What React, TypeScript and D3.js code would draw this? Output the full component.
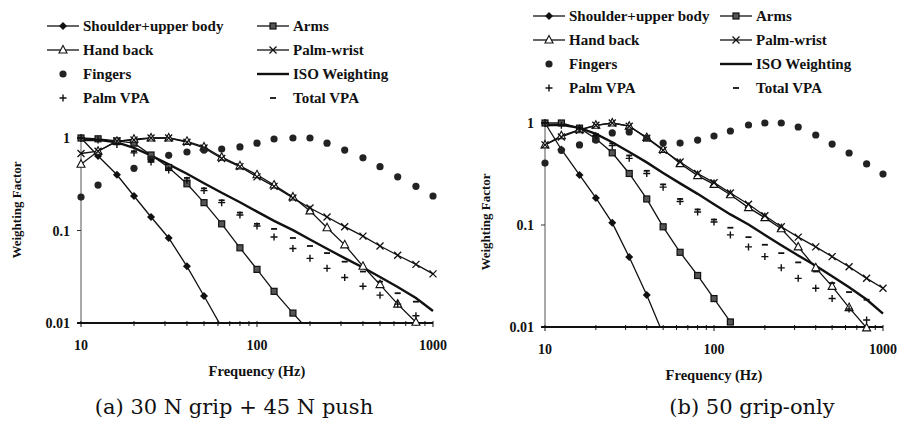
import React from "react";
import * as d3 from "d3";

// One-third octave band centre frequencies (Hz)
const FREQ = [10, 12.5, 16, 20, 25, 31.5, 40, 50, 63, 80, 100, 125, 160, 200, 250, 315, 400, 500, 630, 800, 1000];
const X_TICKS = [10, 100, 1000];
const X_TICK_LABELS = ["10", "100", "1000"];
const Y_TICKS = [1, 0.1, 0.01];
const Y_TICK_LABELS = ["1", "0.1", "0.01"];
const SERIES_NAMES = ["Shoulder+upper body", "Arms", "Hand back", "Palm-wrist", "Fingers", "ISO Weighting", "Palm VPA", "Total VPA"];
const CAPTIONS = ["(a) 30 N grip + 45 N push", "(b) 50 grip-only"];
const X_TITLE = "Frequency (Hz)";
const Y_TITLE = "Weighting Factor";

const N = null;
const ISO_WH = [0.951, 0.958, 0.896, 0.782, 0.647, 0.519, 0.411, 0.324, 0.256, 0.202, 0.16, 0.127, 0.101, 0.0799, 0.0634, 0.0503, 0.0398, 0.0314, 0.0245, 0.0186, 0.0135];

// (a) 30 N grip + 45 N push
const SHOULDER_A = [1.0, 0.64, 0.4, 0.236, 0.14, 0.083, 0.041, 0.0196, 0.009, N, N, N, N, N, N, N, N, N, N, N, N];
const ARMS_A = [1.0, 0.98, 0.93, 0.88, 0.655, 0.48, 0.32, 0.2, 0.118, 0.065, 0.038, 0.022, 0.0128, 0.008, N, N, N, N, N, N, N];
const HANDBACK_A = [0.52, 0.72, 0.92, 0.97, 1.0, 1.0, 0.92, 0.8, 0.62, 0.5, 0.4, 0.31, 0.23, 0.163, 0.107, 0.07, 0.041, 0.026, 0.016, 0.0102, N];
const PALMWRIST_A = [0.68, 0.72, 0.93, 0.95, 1.0, 1.0, 0.9, 0.78, 0.6, 0.49, 0.38, 0.3, 0.225, 0.175, 0.14, 0.11, 0.087, 0.068, 0.054, 0.043, 0.034];
const FINGERS_A = [0.23, 0.31, N, 0.47, 0.59, 0.65, 0.706, 0.74, 0.76, 0.8, 0.88, 0.975, 1.0, 1.0, 0.88, 0.74, 0.61, 0.49, 0.38, 0.3, 0.236];
const PALMVPA_A = [1.0, 0.95, 0.85, 0.69, 0.55, 0.45, 0.35, 0.27, 0.2, 0.147, 0.112, 0.085, 0.064, 0.05, 0.039, 0.031, 0.025, 0.02, 0.016, 0.012, N];
const TOTALVPA_A = [1.0, 0.96, 0.87, 0.72, 0.58, 0.47, 0.37, 0.285, 0.212, 0.156, 0.118, 0.104, 0.083, 0.068, 0.057, 0.046, 0.036, 0.028, 0.021, 0.017, N];

// (b) 50 grip-only
const SHOULDER_B = [1.0, 0.55, 0.31, 0.184, 0.105, 0.0485, 0.0206, 0.0085, N, N, N, N, N, N, N, N, N, N, N, N, N];
const ARMS_B = [1.0, 1.0, 0.89, 0.7, 0.51, 0.32, 0.18, 0.096, 0.054, 0.032, 0.019, 0.0112, N, N, N, N, N, N, N, N, N];
const HANDBACK_B = [0.61, 0.75, 0.86, 0.95, 1.0, 0.93, 0.72, 0.55, 0.4, 0.305, 0.25, 0.198, 0.148, 0.118, 0.092, 0.061, 0.038, 0.025, 0.0155, 0.0098, N];
const PALMWRIST_B = [0.61, 0.73, 0.85, 0.95, 1.0, 0.93, 0.71, 0.54, 0.415, 0.32, 0.26, 0.206, 0.16, 0.123, 0.096, 0.076, 0.061, 0.049, 0.039, 0.03, 0.024];
const FINGERS_B = [0.405, 0.54, 0.61, 0.68, 0.8, 0.816, 0.71, 0.636, 0.636, 0.68, 0.746, 0.835, 0.956, 1.0, 1.0, 0.914, 0.763, 0.622, 0.508, 0.397, 0.316];
const PALMVPA_B = [1.0, 0.95, 0.88, 0.75, 0.6, 0.45, 0.32, 0.235, 0.17, 0.134, 0.107, 0.08, 0.061, 0.049, 0.038, 0.03, 0.024, 0.019, 0.015, 0.0117, N];
const TOTALVPA_B = [1.0, 0.96, 0.9, 0.78, 0.63, 0.48, 0.34, 0.25, 0.18, 0.142, 0.113, 0.094, 0.076, 0.064, 0.053, 0.043, 0.035, 0.027, 0.022, 0.0185, N];

type Marker = "diamond" | "square" | "triangle" | "x" | "dot" | "none" | "plus" | "dash";
const MARKERS: Marker[] = ["diamond", "square", "triangle", "x", "dot", "none", "plus", "dash"];
const HAS_LINE = [true, true, true, true, false, true, false, false];

function MarkerShape({ type, x, y }: { type: Marker; x: number; y: number }) {
  const t = `translate(${x},${y})`;
  switch (type) {
    case "diamond":
      return <path transform={t} d="M0,-4L4,0L0,4L-4,0Z" fill="#111" />;
    case "square":
      return <rect transform={t} x={-3} y={-3} width={6} height={6} fill="#555" stroke="#111" strokeWidth={1.2} />;
    case "triangle":
      return <path transform={t} d="M0,-4.5L4,3L-4,3Z" fill="#fff" stroke="#111" strokeWidth={1.1} />;
    case "x":
      return <path transform={t} d="M-3.5,-3.5L3.5,3.5M-3.5,3.5L3.5,-3.5" stroke="#111" strokeWidth={1.3} fill="none" />;
    case "dot":
      return <circle transform={t} r={3.6} fill="#222" />;
    case "plus":
      return <path transform={t} d="M-3.5,0L3.5,0M0,-3.5L0,3.5" stroke="#111" strokeWidth={1.4} fill="none" />;
    case "dash":
      return <path transform={t} d="M-3,0L3,0" stroke="#111" strokeWidth={1.8} fill="none" />;
    default:
      return null;
  }
}

type PanelProps = {
  id: string;
  series: (number | null)[][];
  x0: number; x1: number; yTop: number; yBot: number;
  legendRows: number[]; legCol1: number; legCol2: number;
  caption: string; captionX: number;
  yTitleX: number; yTitleY: number;
};

function Panel(p: PanelProps) {
  const x = d3.scaleLog().domain([10, 1000]).range([p.x0, p.x1]);
  const y = d3.scaleLog().domain([0.01, 1]).range([p.yBot, p.yTop]);
  const minor: number[] = [];
  for (const dec of [10, 100]) for (let k = 2; k <= 9; k++) minor.push(dec * k);
  const font = "'Liberation Serif', 'Times New Roman', serif";
  const xMid = (p.x0 + p.x1) / 2;

  return (
    <g>
      <defs>
        <clipPath id={`clip-${p.id}`}>
          <rect x={p.x0 - 10} y={p.yTop - 20} width={p.x1 - p.x0 + 20} height={p.yBot - p.yTop + 20} />
        </clipPath>
      </defs>
      {/* legend */}
      {SERIES_NAMES.map((name, i) => {
        const row = Math.floor(i / 2);
        const cx = i % 2 === 0 ? p.legCol1 : p.legCol2;
        const cy = p.legendRows[row];
        return (
          <g key={name}>
            {HAS_LINE[i] && (
              <line x1={cx - 16} x2={cx + 16} y1={cy} y2={cy} stroke="#111" strokeWidth={MARKERS[i] === "none" ? 2.4 : 1.3} />
            )}
            <MarkerShape type={MARKERS[i]} x={cx} y={cy} />
            <text x={cx + 20} y={cy + 5} fontFamily={font} fontWeight="bold" fontSize={15} fill="#111">{name}</text>
          </g>
        );
      })}
      {/* axes */}
      <line x1={p.x0} x2={p.x0} y1={p.yTop} y2={p.yBot} stroke="#555" strokeWidth={1} />
      {Y_TICKS.map((v, i) => (
        <g key={v}>
          <line x1={p.x0 - 4} x2={p.x0} y1={y(v)} y2={y(v)} stroke="#333" strokeWidth={1} />
          <text x={p.x0 - 11} y={y(v) + 5} textAnchor="end" fontFamily={font} fontWeight="bold" fontSize={14} fill="#111">{Y_TICK_LABELS[i]}</text>
        </g>
      ))}
      <line x1={p.x0 - 4} x2={p.x1} y1={p.yBot} y2={p.yBot} stroke="#111" strokeWidth={2} />
      {X_TICKS.map((v, i) => (
        <g key={v}>
          <line x1={x(v)} x2={x(v)} y1={p.yBot - 2} y2={p.yBot + 4} stroke="#111" strokeWidth={1} />
          <text x={x(v)} y={p.yBot + 27} textAnchor="middle" fontFamily={font} fontWeight="bold" fontSize={14} fill="#111">{X_TICK_LABELS[i]}</text>
        </g>
      ))}
      {minor.map((v) => (
        <line key={v} x1={x(v)} x2={x(v)} y1={p.yBot - 2} y2={p.yBot + 3} stroke="#111" strokeWidth={1} />
      ))}
      <text x={xMid} y={p.yBot + 53} textAnchor="middle" fontFamily={font} fontWeight="bold" fontSize={14.5} fill="#111">{X_TITLE}</text>
      <text transform={`translate(${p.yTitleX},${p.yTitleY}) rotate(-90)`} textAnchor="middle" fontFamily={font} fontWeight="bold" fontSize={13} fill="#111">{Y_TITLE}</text>
      {/* series */}
      <g clipPath={`url(#clip-${p.id})`}>
        {p.series.map((vals, i) => {
          if (!HAS_LINE[i]) return null;
          const line = d3.line<number | null>()
            .defined((d) => d != null)
            .x((_, j) => x(FREQ[j]))
            .y((d) => y(d as number));
          return <path key={i} d={line(vals) || ""} fill="none" stroke="#111" strokeWidth={MARKERS[i] === "none" ? 2.4 : 1.3} />;
        })}
      </g>
      {p.series.map((vals, i) => (
        <g key={`m${i}`}>
          {vals.map((v, j) => (v != null && v >= 0.0095 ? <MarkerShape key={j} type={MARKERS[i]} x={x(FREQ[j])} y={y(v)} /> : null))}
        </g>
      ))}
      <text x={p.captionX} y={414} textAnchor="middle" fontFamily="'DejaVu Serif', serif" fontSize={21} fill="#111">{p.caption}</text>
    </g>
  );
}

export default function App() {
  const seriesA = [SHOULDER_A, ARMS_A, HANDBACK_A, PALMWRIST_A, FINGERS_A, ISO_WH, PALMVPA_A, TOTALVPA_A];
  const seriesB = [SHOULDER_B, ARMS_B, HANDBACK_B, PALMWRIST_B, FINGERS_B, ISO_WH, PALMVPA_B, TOTALVPA_B];
  return (
    <svg width={899} height={425} style={{ position: "absolute", left: 0, top: 0, background: "#fff" }}>
      <rect width={899} height={425} fill="#fff" />
      <Panel id="a" series={seriesA} x0={81} x1={433} yTop={138} yBot={323}
        legendRows={[26, 50, 74, 98]} legCol1={63} legCol2={273}
        caption={CAPTIONS[0]} captionX={234} yTitleX={21} yTitleY={210} />
      <Panel id="b" series={seriesB} x0={545} x1={883} yTop={123} yBot={327}
        legendRows={[16, 40, 64, 88]} legCol1={549} legCol2={736}
        caption={CAPTIONS[1]} captionX={752} yTitleX={490} yTitleY={222} />
    </svg>
  );
}
